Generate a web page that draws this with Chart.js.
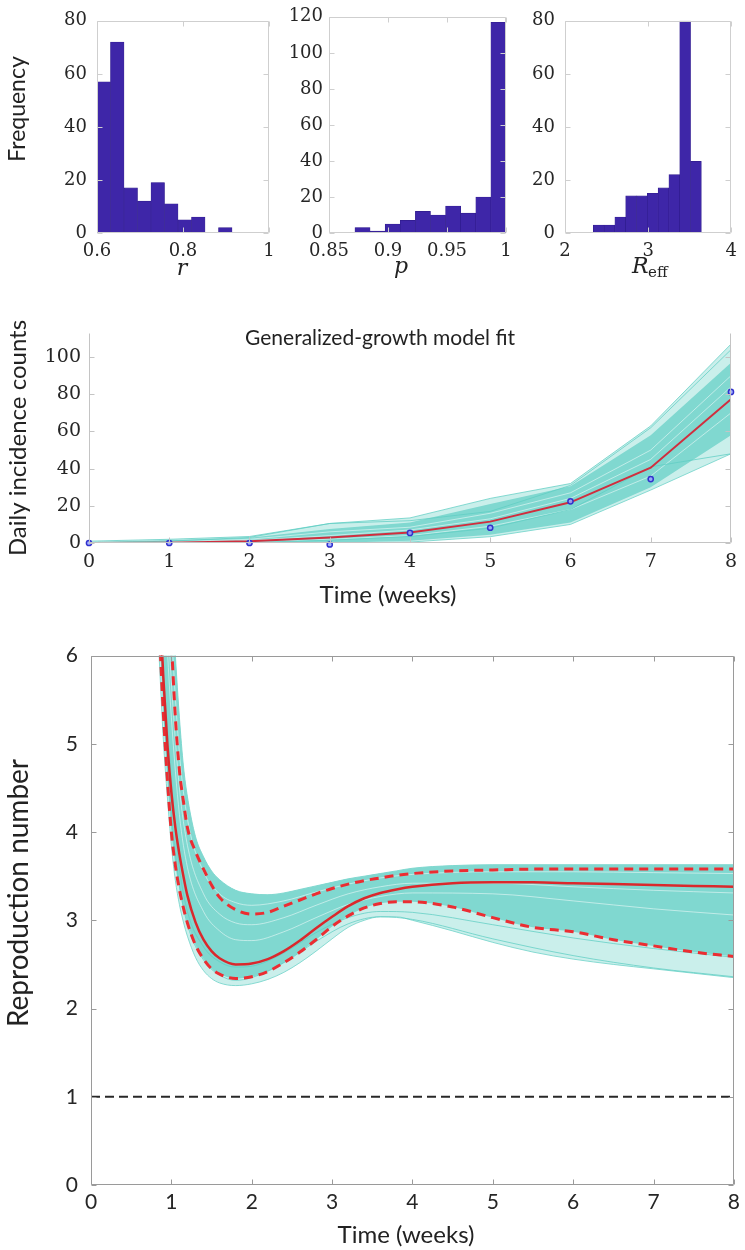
<!DOCTYPE html>
<html>
<head>
<meta charset="utf-8">
<script src="https://cdn.jsdelivr.net/npm/chart.js@4.4.1/dist/chart.umd.min.js"></script>
<style>
  body { margin: 0; background: #fff; width: 745px; height: 1250px; position: relative; overflow: hidden; }
  canvas { position: absolute; }
</style>
</head>
<body>
<canvas id="histR" width="285" height="285" style="left:0;top:0"></canvas>
<canvas id="histP" width="250" height="285" style="left:272px;top:0"></canvas>
<canvas id="histReff" width="237" height="285" style="left:508px;top:0"></canvas>
<canvas id="incidence" width="745" height="320" style="left:0;top:300px"></canvas>
<canvas id="repro" width="745" height="620" style="left:0;top:630px"></canvas>
<script>
// ---- histograms (bin centres / counts) ----
const rBins = [0.6157, 0.6471, 0.6785, 0.7099, 0.7413, 0.7727, 0.8041, 0.8355, 0.8669, 0.8983];
const rCounts = [57, 72, 17, 12, 19, 11, 5, 6, 0, 2];
const rTicks = [0.6, 0.8, 1];
const rFreqTicks = [0, 20, 40, 60, 80];

const pBins = [0.8784, 0.8912, 0.904, 0.9168, 0.9296, 0.9424, 0.9552, 0.968, 0.9808, 0.9936];
const pCounts = [3, 1, 5, 7, 12, 10, 15, 11, 20, 117];
const pTicks = [0.85, 0.9, 0.95, 1];
const pFreqTicks = [0, 20, 40, 60, 80, 100, 120];

const reffBins = [2.405, 2.535, 2.665, 2.795, 2.925, 3.055, 3.185, 3.315, 3.445, 3.575];
const reffCounts = [3, 3, 6, 14, 14, 15, 17, 22, 80, 27];
const reffTicks = [2, 3, 4];
const reffFreqTicks = [0, 20, 40, 60, 80];

// ---- generalized-growth fit (weekly) ----
const weeks = [0, 1, 2, 3, 4, 5, 6, 7, 8];
const incObserved = [0, 0, 0, -0.8, 5.4, 8.2, 22.4, 34.4, 81.3];
const incFit = [0, 0.2, 0.9, 3.0, 5.7, 11.5, 21.9, 40.5, 77.4];
const incEnvHi = [1, 2, 3.5, 10.5, 13.5, 24, 32, 63, 107];
const incEnvLo = [0, 0, 0, 0, 0.5, 3.4, 10, 28.5, 48];
const incDenseHi = [0.6, 1.5, 2.8, 7.5, 11, 21, 30.5, 58, 97];
const incDenseLo = [0, 0, 0, 0, 1.2, 4.5, 11, 30, 58];
const incTraj1 = [0, 0.6, 2, 6, 8.5, 16, 27, 50, 90];
const incTraj2 = [0, 0.3, 1.3, 4, 7, 13, 24, 45, 84];
const incTraj3 = [0, 0.1, 0.5, 2, 4, 9, 18, 36, 70];
const incTraj4 = [0, 1, 3, 10.5, 12, 17, 31, 62, 104];
const incTraj5 = [0, 0, 0.3, 1.5, 3.5, 8, 18, 41, 48];
const incTicks = [0, 20, 40, 60, 80, 100];

// ---- reproduction number ----
const tR = [0.8, 0.85, 0.9, 0.95, 1.0, 1.05, 1.1, 1.15, 1.2, 1.3, 1.4, 1.5, 1.6, 1.8, 2.0, 2.2, 2.4,
            2.6, 2.8, 3.0, 3.2, 3.4, 3.6, 3.8, 4.0, 4.5, 5.0, 5.5, 6.0, 6.5, 7.0, 7.5, 8.0];
const repMedian = [7.8, 6.7, 5.75, 5.0, 4.45, 4.05, 3.75, 3.5, 3.28, 2.98, 2.78, 2.65, 2.57, 2.50, 2.51, 2.56, 2.65,
                   2.77, 2.91, 3.04, 3.16, 3.25, 3.31, 3.35, 3.38, 3.42, 3.43, 3.43, 3.42, 3.41, 3.40, 3.39, 3.38];
const repHi = [9.5, 8.6, 7.7, 6.9, 6.15, 5.3, 4.7, 4.35, 4.05, 3.78, 3.58, 3.40, 3.26, 3.12, 3.07, 3.09, 3.16,
               3.23, 3.30, 3.36, 3.41, 3.45, 3.48, 3.51, 3.53, 3.56, 3.57, 3.58, 3.58, 3.58, 3.58, 3.58, 3.58];
const repLo = [7.4, 6.3, 5.35, 4.6, 4.0, 3.62, 3.35, 3.14, 2.97, 2.72, 2.56, 2.45, 2.39, 2.34, 2.36, 2.42, 2.52,
               2.64, 2.78, 2.93, 3.05, 3.14, 3.19, 3.21, 3.21, 3.15, 3.03, 2.92, 2.87, 2.78, 2.71, 2.64, 2.59];
const repEnvHi = [11, 10, 9, 7.8, 6.8, 6.0, 5.3, 4.75, 4.4, 3.95, 3.72, 3.56, 3.46, 3.34, 3.30, 3.29, 3.31,
                  3.35, 3.39, 3.43, 3.47, 3.50, 3.53, 3.56, 3.59, 3.62, 3.63, 3.63, 3.63, 3.63, 3.63, 3.63, 3.63];
const repEnvLo = [6.9, 5.95, 5.05, 4.4, 3.85, 3.45, 3.18, 2.98, 2.82, 2.58, 2.43, 2.34, 2.29, 2.26, 2.28, 2.33, 2.41,
                  2.52, 2.65, 2.79, 2.92, 3.0, 3.04, 3.04, 3.0, 2.88, 2.75, 2.64, 2.56, 2.50, 2.45, 2.40, 2.35];
const tTraj = [0.9, 1.0, 1.1, 1.2, 1.4, 1.6, 1.8, 2.0, 2.4, 2.8, 3.2, 3.6, 4.0, 5.0, 6.0, 7.0, 8.0];
const repTraj1 = [8.2, 6.3, 4.9, 4.15, 3.55, 3.3, 3.2, 3.17, 3.22, 3.32, 3.41, 3.48, 3.52, 3.55, 3.55, 3.54, 3.53];
const repTraj2 = [7.4, 5.7, 4.5, 3.85, 3.3, 3.07, 2.97, 2.95, 3.03, 3.17, 3.3, 3.38, 3.42, 3.42, 3.38, 3.34, 3.31];
const repTraj3 = [6.9, 5.3, 4.2, 3.6, 3.1, 2.88, 2.78, 2.77, 2.87, 3.03, 3.18, 3.27, 3.31, 3.3, 3.22, 3.13, 3.06];
const repTraj4 = [5.8, 4.6, 3.6, 3.1, 2.7, 2.53, 2.47, 2.48, 2.63, 2.86, 3.03, 3.1, 3.09, 2.95, 2.8, 2.68, 2.58];
const repTraj5 = [5.5, 4.2, 3.4, 2.95, 2.55, 2.38, 2.32, 2.35, 2.52, 2.76, 2.96, 3.04, 3.01, 2.79, 2.6, 2.46, 2.36];
const thresholdT = [0, 8];
const thresholdR = [1, 1];
const repTicks = [0, 1, 2, 3, 4, 5, 6];

// ---- styles ----
const BAR = 'rgb(62,38,168)';
const TEAL = 'rgb(128,216,208)';
const TEAL_LIGHT = 'rgba(128,216,208,0.42)';
const TEAL_LINE = 'rgba(95,205,195,0.75)';
const STREAK = 'rgba(255,255,255,0.5)';
const INK = '#262626';
const SERIF = '"DejaVu Serif", serif';
const SANS = 'Lato, "Open Sans", sans-serif';

Chart.defaults.font.family = SANS;
Chart.defaults.color = INK;

function pts(xs, ys) {
  return xs.map((x, i) => ({ x: x, y: ys[i] }));
}

function fixTicks(list) {
  return s => { s.ticks = list.map(v => ({ value: v })); };
}

// box + inward ticks, MATLAB style
function framePlugin(color, sides) {
  return {
    id: 'frame',
    afterDatasetsDraw(chart) {
      const { ctx, chartArea: a, scales } = chart;
      const L = Math.round(a.left) + 0.5, R = Math.round(a.right) - 0.5;
      const T = Math.round(a.top) + 0.5, B = Math.round(a.bottom) - 0.5;
      ctx.save();
      ctx.strokeStyle = color;
      ctx.lineWidth = 1;
      ctx.beginPath();
      if (sides.includes('l')) { ctx.moveTo(L, T); ctx.lineTo(L, B); }
      if (sides.includes('b')) { ctx.moveTo(L, B); ctx.lineTo(R, B); }
      if (sides.includes('r')) { ctx.moveTo(R, T); ctx.lineTo(R, B); }
      if (sides.includes('t')) { ctx.moveTo(L, T); ctx.lineTo(R, T); }
      scales.x.ticks.forEach(t => {
        const x = Math.round(scales.x.getPixelForValue(t.value)) + 0.5;
        ctx.moveTo(x, B); ctx.lineTo(x, B - 5);
        if (sides.includes('t')) { ctx.moveTo(x, T); ctx.lineTo(x, T + 5); }
      });
      scales.y.ticks.forEach(t => {
        const y = Math.round(scales.y.getPixelForValue(t.value)) + 0.5;
        ctx.moveTo(L, y); ctx.lineTo(L + 5, y);
        if (sides.includes('r')) { ctx.moveTo(R, y); ctx.lineTo(R - 5, y); }
      });
      ctx.stroke();
      ctx.restore();
    }
  };
}

function textPlugin(items) {
  return {
    id: 'labels',
    afterDraw(chart) {
      const ctx = chart.ctx;
      items.forEach(it => {
        ctx.save();
        ctx.translate(it.x, it.y);
        if (it.rot) ctx.rotate(it.rot);
        ctx.font = it.font;
        ctx.fillStyle = '#222';
        ctx.textAlign = it.align || 'center';
        ctx.textBaseline = 'middle';
        ctx.fillText(it.text, 0, 0);
        ctx.restore();
      });
    }
  };
}

function histogram(id, bins, counts, xTicks, yTicks, xmin, xmax, ymax, axisW, padRight, yPad, labels) {
  return new Chart(document.getElementById(id), {
    type: 'bar',
    data: {
      datasets: [{
        data: pts(bins, counts),
        backgroundColor: BAR,
        borderColor: 'rgb(48,28,140)',
        borderWidth: 0.6,
        barPercentage: 1,
        categoryPercentage: 1
      }]
    },
    options: {
      responsive: false, animation: false, events: [],
      layout: { autoPadding: false, padding: { top: 13, right: padRight, left: 0, bottom: 0 } },
      plugins: { legend: { display: false }, tooltip: { enabled: false } },
      scales: {
        x: {
          type: 'linear', min: xmin, max: xmax, offset: false,
          grid: { display: false, drawTicks: false }, border: { display: false },
          afterBuildTicks: fixTicks(xTicks),
          afterFit: s => { s.height = 52; },
          ticks: { callback: v => String(v), font: { family: SERIF, size: 18 }, padding: 8, maxRotation: 0, autoSkip: false }
        },
        y: {
          min: 0, max: ymax,
          grid: { display: false, drawTicks: false }, border: { display: false },
          afterBuildTicks: fixTicks(yTicks),
          afterFit: s => { s.width = axisW; },
          ticks: { callback: v => String(v), font: { family: SERIF, size: 18 }, padding: yPad, autoSkip: false }
        }
      }
    },
    plugins: [framePlugin('#cfcfcf', 'lbrt'), textPlugin(labels)]
  });
}

histogram('histR', rBins, rCounts, rTicks, rFreqTicks, 0.6, 1, 80, 97, 16, 10, [
  { text: 'Frequency', x: 18, y: 109, rot: -Math.PI / 2, font: '23px ' + SANS },
  { text: 'r', x: 182, y: 269, font: 'italic 22px ' + SERIF }
]);
histogram('histP', pBins, pCounts, pTicks, pFreqTicks, 0.85, 1, 120, 57, 16, 6, [
  { text: 'p', x: 129, y: 267, font: 'italic 22px ' + SERIF }
]);
histogram('histReff', reffBins, reffCounts, reffTicks, reffFreqTicks, 2, 4, 80, 57, 3, 10, [
  { text: 'R', x: 124, y: 267, align: 'left', font: 'italic 22px ' + SERIF },
  { text: 'eff', x: 140, y: 273, align: 'left', font: '15px ' + SERIF }
]);

function line(xs, ys, color, width, extra) {
  return Object.assign({
    data: pts(xs, ys), borderColor: color, borderWidth: width,
    pointRadius: 0, fill: false, clip: 0, tension: 0
  }, extra || {});
}

// ---- incidence fit ----
new Chart(document.getElementById('incidence'), {
  type: 'line',
  data: {
    datasets: [
      line(weeks, incEnvHi, TEAL_LINE, 1, { fill: 1, backgroundColor: TEAL_LIGHT, order: 10 }),
      line(weeks, incEnvLo, TEAL_LINE, 1, { order: 10 }),
      line(weeks, incDenseHi, TEAL, 0, { fill: 3, backgroundColor: TEAL, order: 9 }),
      line(weeks, incDenseLo, TEAL, 0, { order: 9 }),
      line(weeks, incTraj1, STREAK, 1, { order: 8 }),
      line(weeks, incTraj2, STREAK, 1, { order: 8 }),
      line(weeks, incTraj3, STREAK, 1, { order: 8 }),
      line(weeks, incTraj4, TEAL_LINE, 1, { order: 7 }),
      line(weeks, incTraj5, TEAL_LINE, 1, { order: 7 }),
      line(weeks, incFit, 'rgb(208,46,62)', 2, { order: 2 }),
      {
        data: pts(weeks, incObserved), showLine: false, clip: false, order: 1,
        pointRadius: 2.6, pointBorderWidth: 1.5,
        pointBorderColor: 'rgb(50,50,205)', pointBackgroundColor: 'rgba(150,165,255,0.85)'
      }
    ]
  },
  options: {
    responsive: false, animation: false, events: [],
    layout: { autoPadding: false, padding: { top: 33, right: 3, left: 0, bottom: 0 } },
    plugins: { legend: { display: false }, tooltip: { enabled: false } },
    scales: {
      x: {
        type: 'linear', min: 0, max: 8,
        grid: { display: false, drawTicks: false }, border: { display: false },
        afterBuildTicks: fixTicks(weeks),
        afterFit: s => { s.height = 77; },
        ticks: { callback: v => String(v), font: { family: SERIF, size: 19 }, padding: 8, maxRotation: 0, autoSkip: false }
      },
      y: {
        min: 0, max: 113,
        grid: { display: false, drawTicks: false }, border: { display: false },
        afterBuildTicks: fixTicks(incTicks),
        afterFit: s => { s.width = 89; },
        ticks: { callback: v => String(v), font: { family: SERIF, size: 19 }, padding: 8, autoSkip: false }
      }
    }
  },
  plugins: [framePlugin('#c4c4c4', 'lbr'), textPlugin([
    { text: 'Generalized-growth model fit', x: 380, y: 38, font: '21px ' + SANS },
    { text: 'Daily incidence counts', x: 18, y: 138, rot: -Math.PI / 2, font: '24px ' + SANS },
    { text: 'Time (weeks)', x: 388, y: 295, font: '24px ' + SANS }
  ])]
});

// ---- reproduction number ----
const smooth = { cubicInterpolationMode: 'monotone' };
new Chart(document.getElementById('repro'), {
  type: 'line',
  data: {
    datasets: [
      line(tR, repEnvHi, TEAL_LINE, 1, Object.assign({ fill: 1, backgroundColor: TEAL_LIGHT, order: 10 }, smooth)),
      line(tR, repEnvLo, TEAL_LINE, 1, Object.assign({ order: 10 }, smooth)),
      line(tR, repEnvHi, TEAL, 0, Object.assign({ fill: 10, backgroundColor: TEAL, order: 9 }, smooth)),
      line(tTraj, repTraj1, STREAK, 1, Object.assign({ order: 8 }, smooth)),
      line(tTraj, repTraj2, STREAK, 1, Object.assign({ order: 8 }, smooth)),
      line(tTraj, repTraj3, STREAK, 1, Object.assign({ order: 8 }, smooth)),
      line(tTraj, repTraj4, TEAL_LINE, 1, Object.assign({ order: 7 }, smooth)),
      line(tTraj, repTraj5, TEAL_LINE, 1, Object.assign({ order: 7 }, smooth)),
      line(thresholdT, thresholdR, 'rgb(40,40,40)', 2, { borderDash: [9, 5], order: 4 }),
      line(tR, repHi, 'rgb(235,45,50)', 3, Object.assign({ borderDash: [9, 6], order: 3 }, smooth)),
      line(tR, repLo, 'rgb(235,45,50)', 3, Object.assign({ borderDash: [9, 6], order: 3 }, smooth)),
      line(tR, repMedian, 'rgb(218,40,44)', 2.5, Object.assign({ order: 2 }, smooth))
    ]
  },
  options: {
    responsive: false, animation: false, events: [],
    layout: { autoPadding: false, padding: { top: 23, right: 2, left: 0, bottom: 0 } },
    plugins: { legend: { display: false }, tooltip: { enabled: false } },
    scales: {
      x: {
        type: 'linear', min: 0, max: 8,
        grid: { display: false, drawTicks: false }, border: { display: false },
        afterBuildTicks: fixTicks(weeks),
        afterFit: s => { s.height = 65; },
        ticks: { callback: v => String(v), font: { family: SANS, size: 21 }, padding: 5, maxRotation: 0, autoSkip: false }
      },
      y: {
        min: 0, max: 6,
        grid: { display: false, drawTicks: false }, border: { display: false },
        afterBuildTicks: fixTicks(repTicks),
        afterFit: s => { s.width = 91; },
        ticks: { callback: v => String(v), font: { family: SANS, size: 21 }, padding: 13, autoSkip: false }
      }
    }
  },
  plugins: [framePlugin('#9a9a9a', 'lbrt'), textPlugin([
    { text: 'Reproduction number', x: 19, y: 263, rot: -Math.PI / 2, font: '28px ' + SANS },
    { text: 'Time (weeks)', x: 406, y: 605, font: '24px ' + SANS }
  ])]
});
</script>
</body>
</html>
